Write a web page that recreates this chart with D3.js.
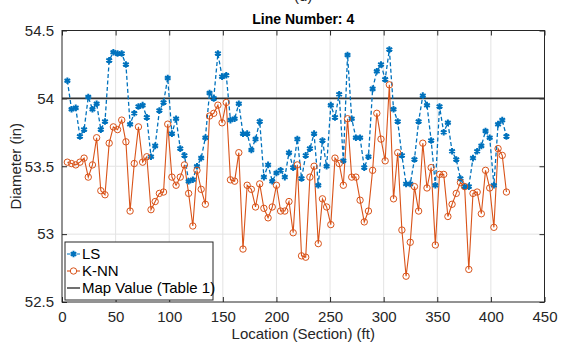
<!DOCTYPE html>
<html><head><meta charset="utf-8">
<script src="https://cdn.jsdelivr.net/npm/d3@7"></script>
<style>html,body{margin:0;padding:0;background:#fff;}svg{display:block;font-family:"Liberation Sans",Arial,sans-serif;}</style>
</head><body><svg id="c" width="562" height="344"></svg>
<script>
const locations = [5,8.9,12.8,16.7,20.6,24.5,28.4,32.3,36.2,40.1,44,47.9,51.8,55.7,59.6,63.5,67.4,71.3,75.2,79.1,83,86.9,90.8,94.7,98.6,102.5,106.4,110.3,114.2,118.1,122,125.9,129.8,133.7,137.6,141.5,145.4,149.3,153.2,157.1,161,164.9,168.8,172.7,176.6,180.5,184.4,188.3,192.2,196.1,200,203.9,207.8,211.7,215.6,219.5,223.4,227.3,231.2,235.1,239,242.9,246.8,250.7,254.6,258.5,262.4,266.3,270.2,274.1,278,281.9,285.8,289.7,293.6,297.5,301.4,305.3,309.2,313.1,317,320.9,324.8,328.7,332.6,336.5,340.4,344.3,348.2,352.1,356,359.9,363.8,367.7,371.6,375.5,379.4,383.3,387.2,391.1,395,398.9,402.8,406.7,410.6,414.5];
const lsValues = [54.13,53.92,53.93,53.72,53.77,54.01,53.92,53.96,53.77,53.83,54.28,54.34,54.33,54.33,54.25,53.81,53.89,53.94,53.95,53.86,53.57,53.65,53.91,53.97,54.15,53.74,53.85,53.63,53.58,53.39,53.40,53.50,53.56,53.71,54.04,54.00,54.33,54.16,54.17,53.84,53.85,53.96,53.74,53.74,53.62,53.70,53.83,53.42,53.51,53.39,53.45,53.47,53.42,53.60,53.49,53.70,53.41,53.58,53.63,53.74,53.36,53.69,53.50,53.95,53.86,54.03,53.54,54.32,53.85,53.71,53.71,53.49,53.57,54.07,54.20,54.25,54.14,54.36,53.92,53.83,53.58,53.37,53.37,53.55,53.83,54.02,53.95,53.69,53.36,53.94,53.75,53.82,53.61,53.55,53.41,53.35,53.35,53.56,53.61,53.65,53.76,53.71,53.36,53.81,53.84,53.72];
const knnValues = [53.53,53.52,53.51,53.53,53.56,53.42,53.51,53.71,53.32,53.29,53.67,53.79,53.77,53.84,53.68,53.17,53.52,53.79,53.53,53.57,53.18,53.24,53.30,53.31,53.81,53.42,53.36,53.42,53.51,53.30,53.06,53.47,53.33,53.22,53.87,53.89,53.95,53.82,53.97,53.40,53.39,53.60,52.89,53.36,53.33,53.20,53.37,53.19,53.12,53.20,53.36,53.17,53.17,53.24,53.01,53.51,52.84,52.83,53.42,53.50,52.93,53.26,53.20,53.07,53.56,53.52,53.36,53.85,53.42,53.42,53.25,53.09,53.17,53.47,53.89,53.70,53.54,54.10,53.26,53.60,53.03,52.69,52.94,53.35,53.17,53.67,53.34,53.49,52.92,53.44,53.44,53.13,53.22,53.30,53.38,53.35,52.74,53.30,53.31,53.15,53.47,53.34,53.05,53.63,53.58,53.31];
const mapValue = 54;
const xTicks = [0,50,100,150,200,250,300,350,400,450];
const yTicks = [52.5,53,53.5,54,54.5];
const yTickLabels = ["52.5","53","53.5","54","54.5"];
const seriesNames = ["LS","K-NN","Map Value (Table 1)"];
const titleText = "Line Number: 4";
const xLabel = "Location (Section) (ft)";
const yLabel = "Diameter (in)";

const blue = "#0072BD", orange = "#D95319", axisCol = "#262626";
const svg = d3.select("#c");
const L = 62, R = 544.5, T = 30.5, B = 302;
const x = d3.scaleLinear([0,450],[L,R]);
const y = d3.scaleLinear([52.5,54.5],[B,T]);

svg.append("rect").attr("width",562).attr("height",344).attr("fill","#fff");
// partially cropped panel label at the very top (only its lower edge is visible in the reference)
svg.append("text").attr("x",(L+R)/2).attr("y",0.5).attr("text-anchor","middle")
  .attr("font-size",15).attr("fill",axisCol).text("(d)");

// grid
const g = svg.append("g");
g.selectAll(".gx").data(xTicks.slice(1,-1)).join("line")
  .attr("x1",d=>x(d)).attr("x2",d=>x(d)).attr("y1",T).attr("y2",B)
  .attr("stroke","#e3e3e3").attr("stroke-width",1);
g.selectAll(".gy").data(yTicks.slice(1,-1)).join("line")
  .attr("y1",d=>y(d)).attr("y2",d=>y(d)).attr("x1",L).attr("x2",R)
  .attr("stroke","#e3e3e3").attr("stroke-width",1);

// axes
function styleAxis(sel){
  sel.select(".domain").remove();
  sel.selectAll("line").attr("stroke",axisCol);
  sel.selectAll("text").attr("fill",axisCol).attr("font-size",15).attr("font-family","Liberation Sans, Arial, sans-serif");
}
svg.append("g").attr("transform",`translate(0,${B})`)
  .call(d3.axisBottom(x).tickValues(xTicks).tickSize(-5).tickPadding(9).tickFormat(d3.format("d"))).call(styleAxis);
svg.append("g").attr("transform",`translate(0,${T})`)
  .call(d3.axisTop(x).tickValues(xTicks).tickSize(-5).tickFormat("")).call(styleAxis);
svg.append("g").attr("transform",`translate(${L},0)`)
  .call(d3.axisLeft(y).tickValues(yTicks).tickSize(-5).tickPadding(8).tickFormat((d,i)=>yTickLabels[i])).call(styleAxis);
svg.append("g").attr("transform",`translate(${R},0)`)
  .call(d3.axisRight(y).tickValues(yTicks).tickSize(-5).tickFormat("")).call(styleAxis);

// map value line
svg.append("line").attr("x1",L).attr("x2",R).attr("y1",y(mapValue)).attr("y2",y(mapValue))
  .attr("stroke","#333").attr("stroke-width",1.6);

// series
const lsData = locations.map((l,i)=>[l,lsValues[i]]);
const knnData = locations.map((l,i)=>[l,knnValues[i]]);
const line = d3.line().x(d=>x(d[0])).y(d=>y(d[1]));

svg.append("path").datum(knnData).attr("d",line).attr("fill","none")
  .attr("stroke",orange).attr("stroke-width",1.1);
svg.append("path").datum(lsData).attr("d",line).attr("fill","none")
  .attr("stroke",blue).attr("stroke-width",1.3).attr("stroke-dasharray","4,2.5");

const star = d3.symbol().type(d3.symbolAsterisk).size(30);
function asterisk(sel){ sel.attr("d",star).attr("fill","none").attr("stroke",blue).attr("stroke-width",2); }
svg.append("g").selectAll("path").data(lsData).join("path")
  .attr("transform",d=>`translate(${x(d[0])},${y(d[1])})`).call(asterisk);
svg.append("g").selectAll("circle").data(knnData).join("circle")
  .attr("cx",d=>x(d[0])).attr("cy",d=>y(d[1])).attr("r",3.2)
  .attr("fill","none").attr("stroke",orange).attr("stroke-width",1);

// box
svg.append("rect").attr("x",L).attr("y",T).attr("width",R-L).attr("height",B-T)
  .attr("fill","none").attr("stroke",axisCol).attr("stroke-width",1);

// title & labels
svg.append("text").attr("x",(L+R)/2).attr("y",24).attr("text-anchor","middle")
  .attr("font-size",14).attr("font-weight","bold").attr("fill","#000").text(titleText);
svg.append("text").attr("x",(L+R)/2).attr("y",339).attr("text-anchor","middle")
  .attr("font-size",15).attr("fill",axisCol).text(xLabel);
svg.append("text").attr("transform",`translate(21,${(T+B)/2}) rotate(-90)`).attr("text-anchor","middle")
  .attr("font-size",15).attr("fill",axisCol).text(yLabel);

// legend
const lg = svg.append("g");
lg.append("rect").attr("x",65).attr("y",242).attr("width",148).attr("height",58)
  .attr("fill","#fff").attr("stroke",axisCol).attr("stroke-width",1);
const rows = [254,271,288];
seriesNames.forEach((name,i)=>{
  const yy = rows[i];
  const col = i===0?blue:(i===1?orange:"#333");
  lg.append("line").attr("x1",67).attr("x2",80).attr("y1",yy).attr("y2",yy)
    .attr("stroke",col).attr("stroke-width",i===2?1.4:1.1)
    .attr("stroke-dasharray",i===0?"3,2":null);
  if(i===0) lg.append("path").attr("transform",`translate(73.5,${yy})`).call(asterisk);
  if(i===1) lg.append("circle").attr("cx",73.5).attr("cy",yy).attr("r",3.2)
    .attr("fill","#fff").attr("stroke",orange).attr("stroke-width",1);
  lg.append("text").attr("x",82).attr("y",yy+5).attr("font-size",15).attr("fill","#000").text(name);
});
</script></body></html>
